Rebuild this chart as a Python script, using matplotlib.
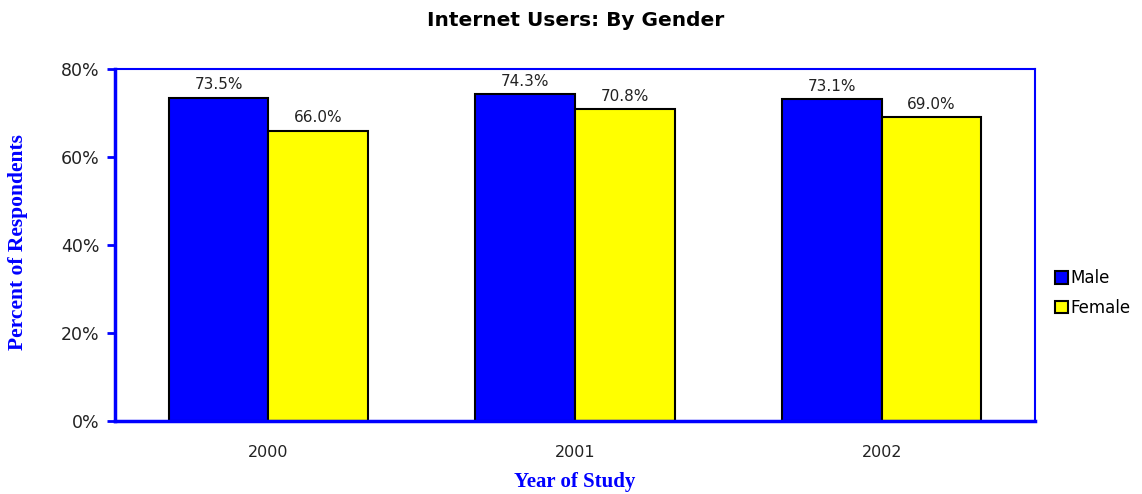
import matplotlib
matplotlib.use("Agg")
import matplotlib.pyplot as plt
import numpy as np

years = ["2000", "2001", "2002"]
male = [73.5, 74.3, 73.1]
female = [66.0, 70.8, 69.0]
yticks = [0, 20, 40, 60, 80]

fig = plt.figure(figsize=(11.42, 4.94), dpi=100)
ax = fig.add_axes([115/1142, 73/494, 920/1142, 352/494])

x = np.arange(len(years))
w = 0.325
b1 = ax.bar(x - w/2, male, w, color="#0000FF", edgecolor="black", linewidth=1.5, label="Male")
b2 = ax.bar(x + w/2, female, w, color="#FFFF00", edgecolor="black", linewidth=1.5, label="Female")

for bars, vals in ((b1, male), (b2, female)):
    for r, v in zip(bars, vals):
        ax.text(r.get_x() + r.get_width()/2, v + 1.2, f"{v:.1f}%", ha="center", va="bottom",
                fontsize=11, color="#222222", family="DejaVu Sans")

ax.set_xlim(-0.5, 2.5)
ax.set_ylim(0, 80)
ax.set_xticks(x)
ax.set_xticklabels(years, fontsize=11.5, color="#222222")
ax.set_yticks(yticks)
ax.set_yticklabels([f"{t}%" for t in yticks], fontsize=12.5, color="#222222")
ax.tick_params(axis="x", length=0, pad=17)
ax.tick_params(axis="y", length=6, width=2, color="#0000FF", pad=5)
for lbl in ax.get_yticklabels():
    lbl.set_va("center_baseline")
for s in ax.spines.values():
    s.set_color("#0000FF")
    s.set_linewidth(1.5)
ax.spines["left"].set_linewidth(2.5)
ax.spines["bottom"].set_linewidth(2.5)

fig.text(575/1142, 1 - 482/494, "Year of Study", ha="center", va="center",
         family="Liberation Serif", fontweight="bold", fontsize=15, color="#0000FF")
fig.text(18/1142, 1 - 242/494, "Percent of Respondents", rotation=90, ha="center", va="center",
         family="Liberation Serif", fontweight="bold", fontsize=15.5, color="#0000FF")
fig.text(576/1142, 1 - 20/494, "Internet Users: By Gender", ha="center", va="center",
         fontsize=14.5, fontweight="bold", color="black")

leg = fig.legend(handles=[b1, b2], labels=["Male", "Female"], loc="center left",
                 bbox_to_anchor=(1040/1142, 1 - 293/494), frameon=False, fontsize=12,
                 handlelength=0.8, handleheight=0.8, handletextpad=0.1, labelspacing=0.7)

fig.savefig("out.png", dpi=100)
